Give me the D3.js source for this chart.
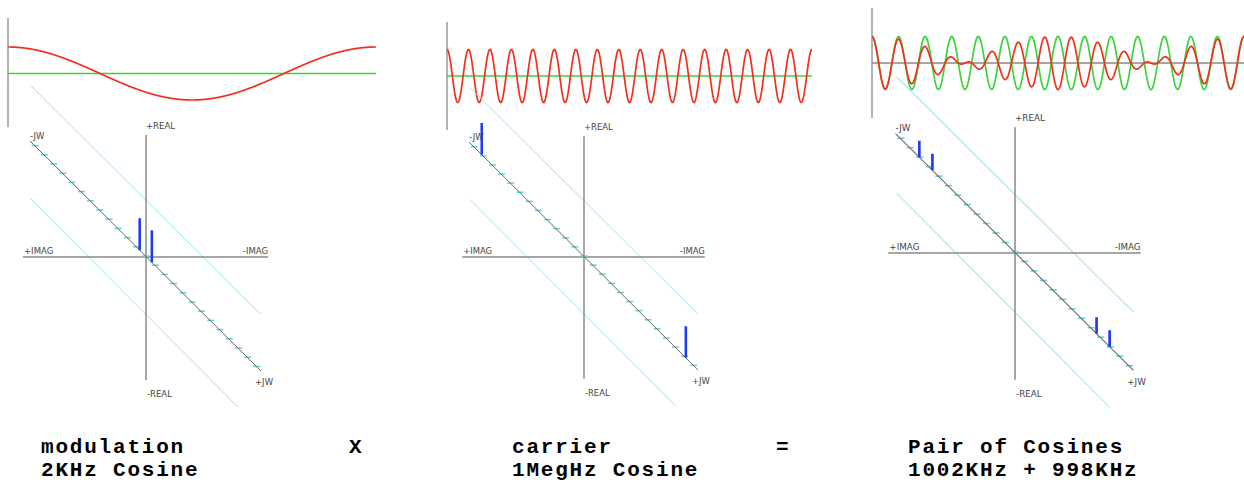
<!DOCTYPE html>
<html>
<head>
<meta charset="utf-8">
<title>Modulation x Carrier = Pair of Cosines</title>
<script src="https://d3js.org/d3.v7.min.js"></script>
<style>
  body { margin: 0; background: #fff; }
  svg { display: block; }
  .lbl { font-family: "DejaVu Sans", Verdana, sans-serif; font-size: 8.5px; fill: #444; }
  .cap { font-family: "Liberation Mono", "Courier New", monospace; font-weight: bold; font-size: 21px; letter-spacing: 1.8px; fill: #000; }
</style>
</head>
<body>
<div id="chart"></div>
<script>
// signal parameters (cycles across the plotted window)
var captionTop = ["modulation", "carrier", "Pair of Cosines"];
var captionBottom = ["2KHz Cosine", "1MegHz Cosine", "1002KHz + 998KHz"];
var operators = ["X", "="];
var redModCycles = [1, 0, 1];       // envelope cosine
var redCarrierCycles = [0, 17, 14]; // carrier cosine
var greenCycles = [null, null, 14]; // null = flat zero line
// spectrum lines: position on the jw axis (-1..1 = axis ends) and real amplitude
var phasorPos = [[-0.05, 0.055], [-0.89, 0.895], [-0.80, -0.69, 0.69, 0.80]];
var phasorAmp = [[0.5, 0.5], [0.5, 0.5], [0.25, 0.25, 0.25, 0.25]];
var jwTicks = d3.range(-12, 13).map(function(k){ return k / 12.5; });

// layout
var waveBox = [
  {x0: 8, x1: 376, cy: 73.5, top: 18, bottom: 127, zero: false},
  {x0: 447, x1: 812, cy: 76, top: 22, bottom: 130, zero: false},
  {x0: 872, x1: 1244, cy: 63, top: 8, bottom: 118, zero: true}
];
var planeBox = [
  {cx: 146, cy: 257, s: 1},
  {cx: 584, cy: 257, s: 0.99},
  {cx: 1015, cy: 253, s: 1.03}
];
var capX = [41, 512, 908];
var opX = [349, 776];

var svg = d3.select("#chart").append("svg")
    .attr("width", 1244)
    .attr("height", 483);

for (var i = 0; i < 3; i++) {
  var wb = waveBox[i];
  var g = svg.append("g");
  var x = d3.scaleLinear().domain([0, 1]).range([wb.x0, wb.x1]);
  var y = d3.scaleLinear().domain([-1, 1]).range([wb.cy + 26.5, wb.cy - 26.5]);
  var ts = d3.range(0, 1.00001, 1 / 900);

  g.append("line")
    .attr("x1", wb.x0).attr("x2", wb.x0)
    .attr("y1", wb.top).attr("y2", wb.bottom)
    .style("stroke", "#999").style("stroke-width", 1.5);

  if (wb.zero) {
    g.append("line")
      .attr("x1", wb.x0).attr("x2", wb.x1)
      .attr("y1", y(0)).attr("y2", y(0))
      .style("stroke", "#888").style("stroke-width", 1.5);
  }

  var line = d3.line().x(function(d){ return x(d[0]); }).y(function(d){ return y(d[1]); });

  var gc = greenCycles[i];
  var green = ts.map(function(t){ return [t, gc === null ? 0 : Math.cos(2 * Math.PI * gc * t)]; });
  g.append("path").attr("d", line(green))
    .style("fill", "none").style("stroke", "#3ad43a").style("stroke-width", 1.7);

  var m = redModCycles[i], c = redCarrierCycles[i];
  var red = ts.map(function(t){
    return [t, Math.cos(2 * Math.PI * m * t) * Math.cos(2 * Math.PI * c * t)];
  });
  g.append("path").attr("d", line(red))
    .style("fill", "none").style("stroke", "#f2301c").style("stroke-width", 1.7);

  // complex plane with jw axis drawn in perspective
  var pb = planeBox[i];
  var p = svg.append("g").attr("transform", "translate(" + pb.cx + "," + pb.cy + ") scale(" + pb.s + ")");
  var jx = d3.scaleLinear().domain([-1, 1]).range([-116, 115]);
  var jy = d3.scaleLinear().domain([-1, 1]).range([-116, 114]);
  var ry = d3.scaleLinear().domain([0, 1]).range([0, -64]);

  p.append("line").attr("x1", -115).attr("y1", -171).attr("x2", 115).attr("y2", 57.5)
    .style("stroke", "#9fe3ea").style("stroke-width", 1);
  p.append("line").attr("x1", -115).attr("y1", -58).attr("x2", 92).attr("y2", 150)
    .style("stroke", "#9fe3ea").style("stroke-width", 1);

  p.append("line").attr("x1", 0).attr("x2", 0).attr("y1", -122).attr("y2", 123)
    .style("stroke", "#8a8a8a").style("stroke-width", 1.5);
  p.append("line").attr("x1", -123).attr("x2", 122).attr("y1", 0).attr("y2", 0)
    .style("stroke", "#8a8a8a").style("stroke-width", 1.5);

  p.selectAll(".tick").data(jwTicks).enter().append("line")
    .attr("x1", function(d){ return jx(d) - 3; })
    .attr("x2", function(d){ return jx(d) + 4; })
    .attr("y1", function(d){ return jy(d); })
    .attr("y2", function(d){ return jy(d); })
    .style("stroke", "#62d2da").style("stroke-width", 1.5);

  p.append("line").attr("x1", jx(-1)).attr("y1", jy(-1)).attr("x2", jx(1)).attr("y2", jy(1))
    .style("stroke", "#666").style("stroke-width", 1);

  p.selectAll(".ph").data(phasorPos[i]).enter().append("line")
    .attr("x1", function(d){ return jx(d); })
    .attr("x2", function(d){ return jx(d); })
    .attr("y1", function(d){ return jy(d); })
    .attr("y2", function(d, k){ return jy(d) + ry(phasorAmp[i][k]); })
    .style("stroke", "#1f3cf5").style("stroke-width", 2.6);

  p.append("text").attr("class", "lbl").attr("x", 0).attr("y", -128).text("+REAL");
  p.append("text").attr("class", "lbl").attr("x", 1).attr("y", 140).text("-REAL");
  p.append("text").attr("class", "lbl").attr("x", -122).attr("y", -3).text("+IMAG");
  p.append("text").attr("class", "lbl").attr("x", 122).attr("y", -3)
    .style("text-anchor", "end").text("-IMAG");
  p.append("text").attr("class", "lbl").attr("x", -116).attr("y", -118).text("-JW");
  p.append("text").attr("class", "lbl").attr("x", 109).attr("y", 128).text("+JW");

  svg.append("text").attr("class", "cap").attr("x", capX[i]).attr("y", 453).text(captionTop[i]);
  svg.append("text").attr("class", "cap").attr("x", capX[i]).attr("y", 476).text(captionBottom[i]);
}

svg.selectAll(".op").data(operators).enter().append("text")
  .attr("class", "cap")
  .attr("x", function(d, k){ return opX[k]; })
  .attr("y", 453)
  .text(function(d){ return d; });
</script>
</body>
</html>
